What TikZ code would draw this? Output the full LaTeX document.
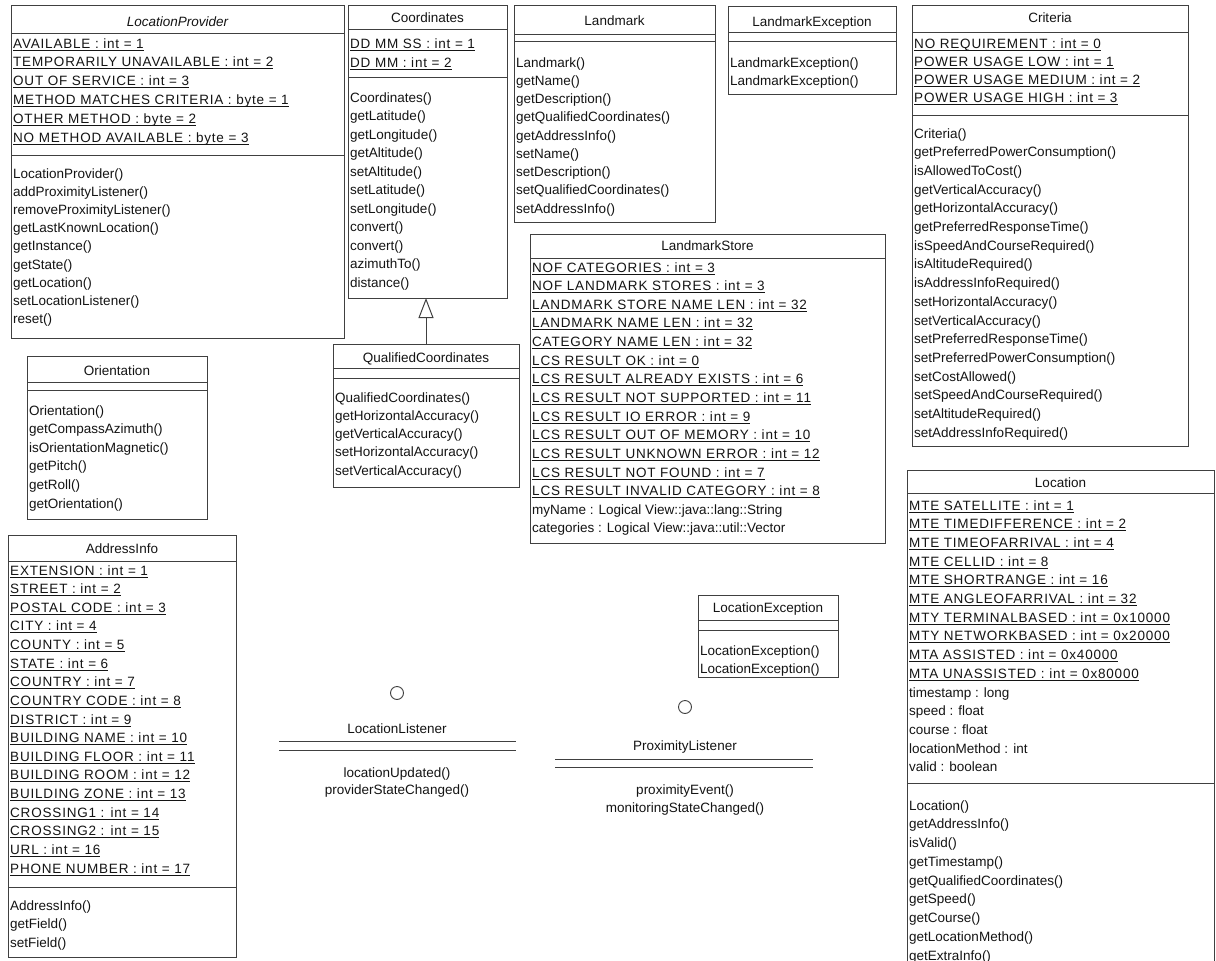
\documentclass[tikz,border=0pt]{standalone}
\usepackage{fontspec}
\setmainfont{Liberation Sans}
\newfontfamily\capsf[LetterSpace=6]{Liberation Sans}
\usetikzlibrary{arrows.meta}
\newsavebox\ulbox
\newcommand\ul[1]{\sbox\ulbox{#1}\rlap{\usebox\ulbox}\rule[-2.4pt]{\wd\ulbox}{0.9pt}}
\definecolor{lc}{RGB}{64,64,64}
\definecolor{tc}{RGB}{20,20,20}
\tikzset{
 cbox/.style={draw=lc, line width=1pt, inner sep=0pt, outer sep=0pt, anchor=north west},
 cline/.style={draw=lc, line width=1pt},
 txt/.style={anchor=base west, inner sep=0pt, text=tc, font=\fontsize{13.5}{16}\selectfont},
 utxt/.style={txt, font=\capsf\fontsize{13.5}{16}\selectfont},
 ttl/.style={anchor=base, inner sep=0pt, text=tc, font=\fontsize{13.5}{16}\selectfont},
 lolly/.style={draw=lc, circle, minimum size=13pt, inner sep=0pt, line width=0.9pt},
}
\newcommand\classbox[5]{\node[cbox, minimum width={#4-#2}, minimum height={#5-#3}] (#1) at (#2,#3) {};}
\newcommand\csep[3]{\draw[cline] (#1,#3) -- (#2,#3);}
\newcommand\tlines[5]{\foreach \t [count=\i] in {#5} {\node[txt] (#1\i) at (#2,{#3+(\i-1)*#4}) {\t};}}
\newcommand\ulines[5]{\foreach \t [count=\i] in {#5} {\node[utxt] (#1\i) at (#2,{#3+(\i-1)*#4}) {\ul{\t}};}}
\begin{document}
\begin{tikzpicture}[x=1pt, y=-1pt]
\useasboundingbox (0,0) rectangle (1216,961);
\fill[white] (0,0) rectangle (1216,961);
\clip (0,0) rectangle (1216,961);

% LocationProvider
\classbox{LP}{11}{5}{344}{338}
\csep{11}{344}{33}\csep{11}{344}{155}
\node[ttl, font=\itshape\fontsize{13.5}{16}\selectfont] (LPt) at (177.5,26) {LocationProvider};
\ulines{LPa}{13}{48}{18.8}{AVAILABLE : int = 1, TEMPORARILY UNAVAILABLE : int = 2, OUT OF SERVICE : int = 3, METHOD MATCHES CRITERIA : byte = 1, OTHER METHOD : byte = 2, NO METHOD AVAILABLE : byte = 3}
\tlines{LPm}{13}{178}{18.2}{LocationProvider(), addProximityListener(), removeProximityListener(), getLastKnownLocation(), getInstance(), getState(), getLocation(), setLocationListener(), reset()}

% Coordinates
\classbox{CO}{348}{5}{507}{298}
\csep{348}{507}{29}\csep{348}{507}{77}
\node[ttl] (COt) at (427.5,23) {Coordinates};
\ulines{COa}{350}{48}{19}{DD MM SS : int = 1, DD MM : int = 2}
\tlines{COm}{350}{102}{18.5}{Coordinates(), getLatitude(), getLongitude(), getAltitude(), setAltitude(), setLatitude(), setLongitude(), convert(), convert(), azimuthTo(), distance()}

% QualifiedCoordinates
\classbox{QC}{333}{344}{519}{487}
\csep{333}{519}{368}\csep{333}{519}{378}
\node[ttl] (QCt) at (426,362) {QualifiedCoordinates};
\tlines{QCm}{335}{402}{18.25}{QualifiedCoordinates(), getHorizontalAccuracy(), getVerticalAccuracy(), setHorizontalAccuracy(), setVerticalAccuracy()}
\draw[cline, -{Triangle[open, length=20pt, width=15pt, fill=white]}] (QC.north) -- (QC.north |- CO.south);

% Landmark
\classbox{LM}{514}{5}{715}{222}
\csep{514}{715}{34}\csep{514}{715}{41}
\node[ttl] (LMt) at (614.5,25) {Landmark};
\tlines{LMm}{516}{67}{18.25}{Landmark(), getName(), getDescription(), getQualifiedCoordinates(), getAddressInfo(), setName(), setDescription(), setQualifiedCoordinates(), setAddressInfo()}

% LandmarkException
\classbox{LE}{728}{6}{896}{94}
\csep{728}{896}{32}\csep{728}{896}{41}
\node[ttl] (LEt) at (812,26) {LandmarkException};
\tlines{LEm}{730}{67}{18}{LandmarkException(), LandmarkException()}

% Criteria
\classbox{CR}{912}{5}{1188}{446}
\csep{912}{1188}{32}\csep{912}{1188}{115}
\node[ttl] (CRt) at (1050,23) {Criteria};
\ulines{CRa}{914}{48}{18.3}{NO REQUIREMENT : int = 0, POWER USAGE LOW : int = 1, POWER USAGE MEDIUM : int = 2, POWER USAGE HIGH : int = 3}
\tlines{CRm}{914}{138}{18.7}{Criteria(), getPreferredPowerConsumption(), isAllowedToCost(), getVerticalAccuracy(), getHorizontalAccuracy(), getPreferredResponseTime(), isSpeedAndCourseRequired(), isAltitudeRequired(), isAddressInfoRequired(), setHorizontalAccuracy(), setVerticalAccuracy(), setPreferredResponseTime(), setPreferredPowerConsumption(), setCostAllowed(), setSpeedAndCourseRequired(), setAltitudeRequired(), setAddressInfoRequired()}

% LandmarkStore
\classbox{LS}{530}{234}{885}{543}
\csep{530}{885}{258}
\node[ttl] (LSt) at (707.5,250) {LandmarkStore};
\ulines{LSa}{532}{272}{18.64}{NOF CATEGORIES : int = 3, NOF LANDMARK STORES : int = 3, LANDMARK STORE NAME LEN : int = 32, LANDMARK NAME LEN : int = 32, CATEGORY NAME LEN : int = 32, LCS RESULT OK : int = 0, LCS RESULT ALREADY EXISTS : int = 6, LCS RESULT NOT SUPPORTED : int = 11, LCS RESULT IO ERROR : int = 9, LCS RESULT OUT OF MEMORY : int = 10, LCS RESULT UNKNOWN ERROR : int = 12, LCS RESULT NOT FOUND : int = 7, LCS RESULT INVALID CATEGORY : int = 8}
\tlines{LSb}{532}{514.3}{18.64}{myName : Logical View::java::lang::String, categories : Logical View::java::util::Vector}

% Orientation
\classbox{OR}{27}{356}{207}{519}
\csep{27}{207}{382}\csep{27}{207}{390}
\node[ttl] (ORt) at (117,375) {Orientation};
\tlines{ORm}{29}{415}{18.6}{Orientation(), getCompassAzimuth(), isOrientationMagnetic(), getPitch(), getRoll(), getOrientation()}

% AddressInfo
\classbox{AI}{8}{535}{236}{957}
\csep{8}{236}{561}\csep{8}{236}{887}
\node[ttl] (AIt) at (122,553) {AddressInfo};
\ulines{AIa}{10}{575}{18.63}{EXTENSION : int = 1, STREET : int = 2, POSTAL CODE : int = 3, CITY : int = 4, COUNTY : int = 5, STATE : int = 6, COUNTRY : int = 7, COUNTRY CODE : int = 8, DISTRICT : int = 9, BUILDING NAME : int = 10, BUILDING FLOOR : int = 11, BUILDING ROOM : int = 12, BUILDING ZONE : int = 13, CROSSING1 : int = 14, CROSSING2 : int = 15, URL : int = 16, PHONE NUMBER : int = 17}
\tlines{AIm}{10}{910}{18.5}{AddressInfo(), getField(), setField()}

% LocationException
\classbox{LX}{698}{595}{838}{677}
\csep{698}{838}{620}\csep{698}{838}{630}
\node[ttl] (LXt) at (768,612) {LocationException};
\tlines{LXm}{700}{655}{18}{LocationException(), LocationException()}

% Location
\classbox{LO}{907}{470}{1214}{975}
\csep{907}{1214}{493}\csep{907}{1214}{783}
\node[ttl] (LOt) at (1060.5,487) {Location};
\ulines{LOa}{909}{510}{18.7}{MTE SATELLITE : int = 1, MTE TIMEDIFFERENCE : int = 2, MTE TIMEOFARRIVAL : int = 4, MTE CELLID : int = 8, MTE SHORTRANGE : int = 16, MTE ANGLEOFARRIVAL : int = 32, MTY TERMINALBASED : int = 0x10000, MTY NETWORKBASED : int = 0x20000, MTA ASSISTED : int = 0x40000, MTA UNASSISTED : int = 0x80000}
\tlines{LOb}{909}{697}{18.7}{timestamp : long, speed : float, course : float, locationMethod : int, valid : boolean}
\tlines{LOm}{909}{810}{18.75}{Location(), getAddressInfo(), isValid(), getTimestamp(), getQualifiedCoordinates(), getSpeed(), getCourse(), getLocationMethod(), getExtraInfo()}

% LocationListener (interface)
\node[lolly] (LLc) at (397,693) {};
\node[ttl] (LLt) at (397,733) {LocationListener};
\draw[cline] (279,741) -- (516,741);
\draw[cline] (279,750) -- (516,750);
\node[ttl] (LLm1) at (397,777) {locationUpdated()};
\node[ttl] (LLm2) at (397,794) {providerStateChanged()};

% ProximityListener (interface)
\node[lolly] (PLc) at (685,707) {};
\node[ttl] (PLt) at (685,750) {ProximityListener};
\draw[cline] (555,759) -- (813,759);
\draw[cline] (555,767) -- (813,767);
\node[ttl] (PLm1) at (685,794) {proximityEvent()};
\node[ttl] (PLm2) at (685,812) {monitoringStateChanged()};
\end{tikzpicture}
\end{document}
